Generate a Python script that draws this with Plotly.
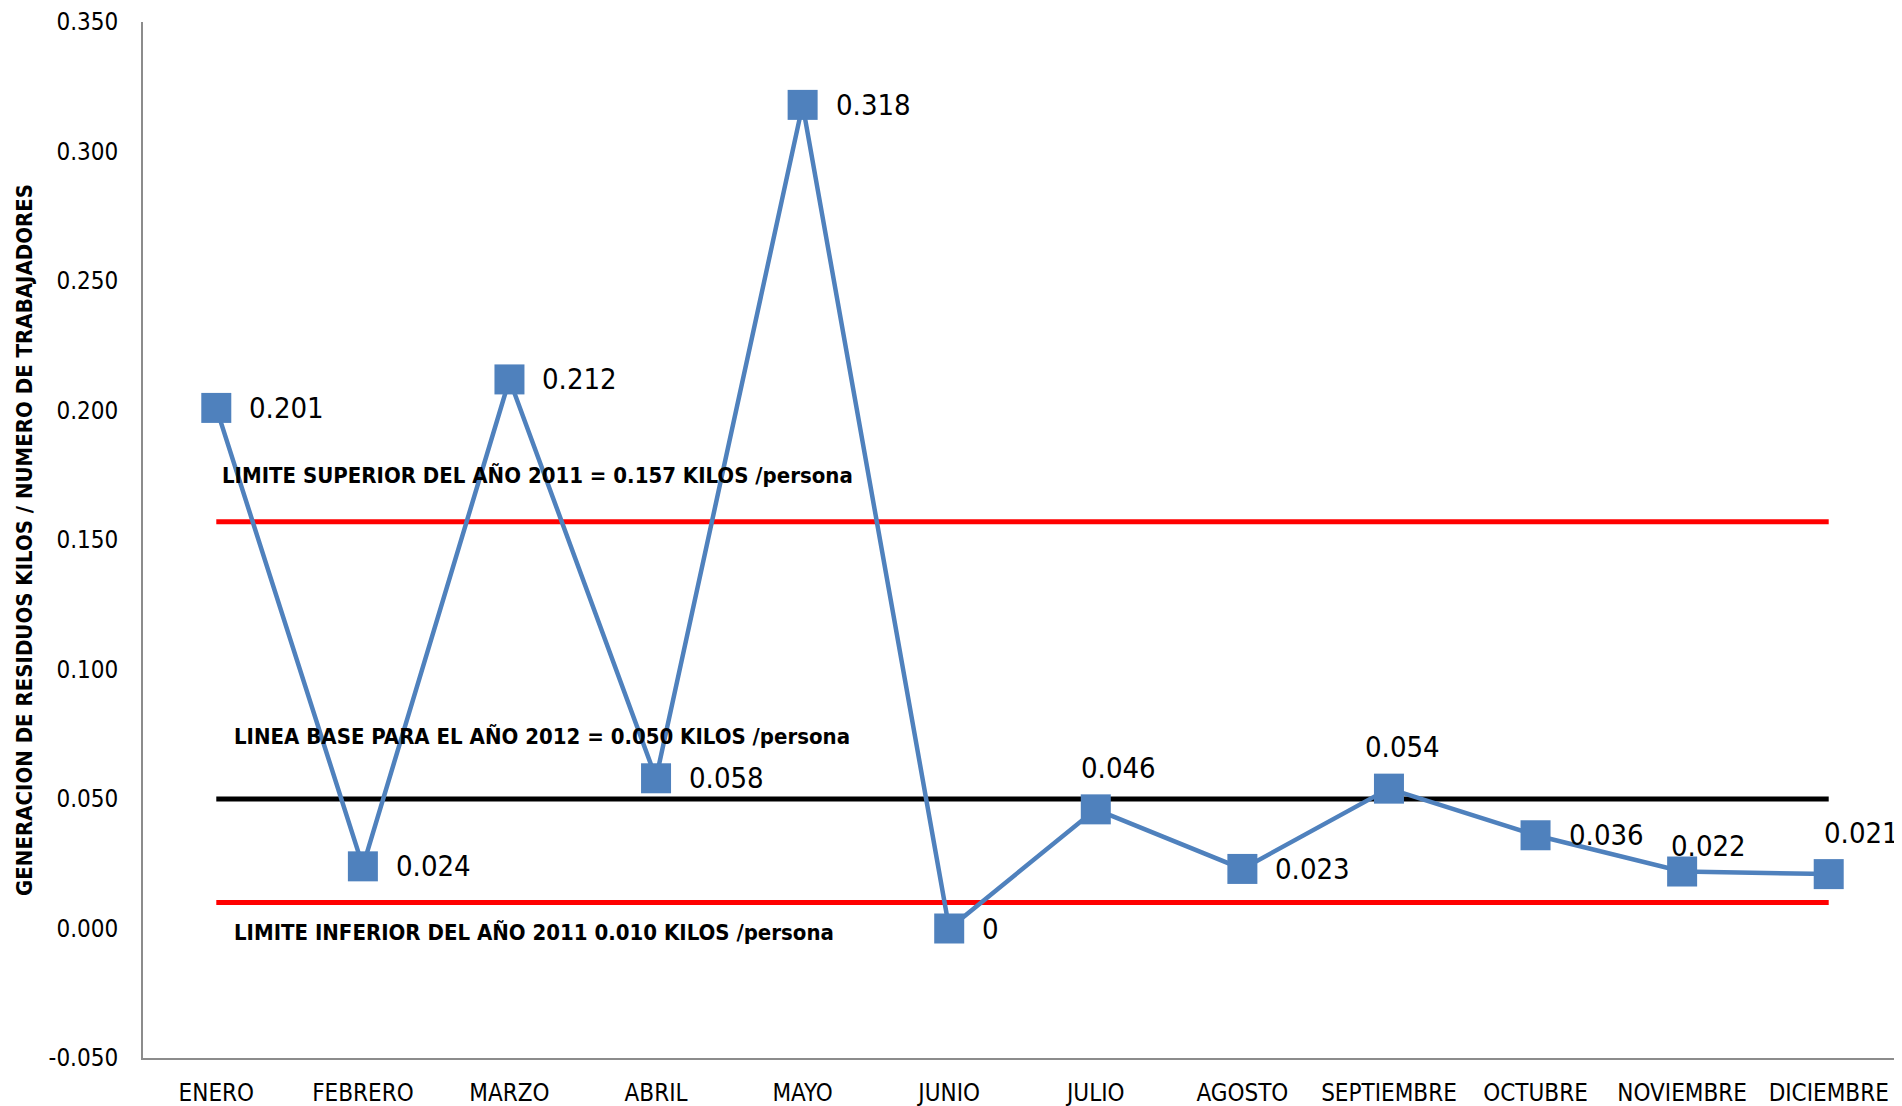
import plotly.graph_objects as go

months = ["ENERO", "FEBRERO", "MARZO", "ABRIL", "MAYO", "JUNIO", "JULIO",
          "AGOSTO", "SEPTIEMBRE", "OCTUBRE", "NOVIEMBRE", "DICIEMBRE"]
values = [0.201, 0.024, 0.212, 0.058, 0.318, 0, 0.046, 0.023, 0.054, 0.036, 0.022, 0.021]

upper_limit = 0.157
baseline = 0.050
lower_limit = 0.010

upper_text = "LIMITE SUPERIOR DEL AÑO 2011 = 0.157 KILOS /persona"
base_text = "LINEA BASE PARA EL AÑO 2012 = 0.050 KILOS /persona"
lower_text = "LIMITE INFERIOR DEL AÑO 2011 0.010 KILOS /persona"
y_title = "GENERACION DE RESIDUOS KILOS / NUMERO DE TRABAJADORES"

y_ticks = [-0.05, 0.0, 0.05, 0.1, 0.15, 0.2, 0.25, 0.3, 0.35]

# label placement style: (anchor, xshift, yshift)
label_style = [("r", 31, 0), ("r", 31, 0), ("r", 31, 0), ("r", 31, 0), ("r", 31, 0),
               ("r", 31, 0), ("t", 23, 41), ("r", 31, 0), ("t", 14, 42), ("r", 31, 0),
               ("t", 26, 26), ("t", 33, 41)]

FONT = "DejaVu Sans Condensed, Liberation Sans Narrow, sans-serif"
BLUE = "#4F81BD"

fig = go.Figure()

for val, col in [(upper_limit, "#FF0000"), (baseline, "#000000"), (lower_limit, "#FF0000")]:
    fig.add_trace(go.Scatter(x=[months[0], months[-1]], y=[val, val], mode="lines",
                             line=dict(color=col, width=5), hoverinfo="skip", showlegend=False))

fig.add_trace(go.Scatter(x=months, y=values, mode="lines+markers",
                         line=dict(color=BLUE, width=4.5),
                         marker=dict(symbol="square", size=30, color=BLUE),
                         showlegend=False))

for m, v, (anc, dx, dy) in zip(months, values, label_style):
    fig.add_annotation(x=m, y=v, xref="x", yref="y", text=f"{v:g}", showarrow=False,
                       xanchor="left" if anc == "r" else "center", yanchor="middle",
                       xshift=dx, yshift=dy,
                       font=dict(family=FONT, size=29, color="#000000"))

for txt, yv in [(upper_text, 0.175), (base_text, 0.0743), (lower_text, -0.0014)]:
    fig.add_annotation(x=0.0438 if txt == upper_text else 0.0506, y=yv, xref="paper", yref="y",
                       text=f"<b>{txt}</b>", showarrow=False, xanchor="left", yanchor="middle",
                       font=dict(family=FONT, size=22, color="#000000"))

fig.add_annotation(x=-0.0677, y=0.5, xref="paper", yref="paper", text=f"<b>{y_title}</b>",
                   textangle=-90, showarrow=False, xanchor="center", yanchor="middle",
                   font=dict(family=FONT, size=22, color="#000000"))

fig.update_layout(
    width=1894, height=1098,
    margin=dict(l=135, r=0, t=14, b=48),
    paper_bgcolor="white", plot_bgcolor="white",
    showlegend=False,
)
fig.update_xaxes(type="category", categoryorder="array", categoryarray=months,
                 range=[-0.5, 11.5], showgrid=False, zeroline=False,
                 showline=True, linecolor="#8C8C8C", linewidth=2,
                 ticks="", ticklabelstandoff=12,
                 tickfont=dict(family=FONT, size=24, color="#000000"))
fig.update_yaxes(range=[-0.05, 0.35], tickvals=y_ticks,
                 ticktext=[f"{t:.3f}" for t in y_ticks],
                 showgrid=False, zeroline=False, showline=True, linecolor="#8C8C8C",
                 linewidth=2, ticks="", ticklabelstandoff=18,
                 tickfont=dict(family=FONT, size=24, color="#000000"))

fig.write_html("out.html")
